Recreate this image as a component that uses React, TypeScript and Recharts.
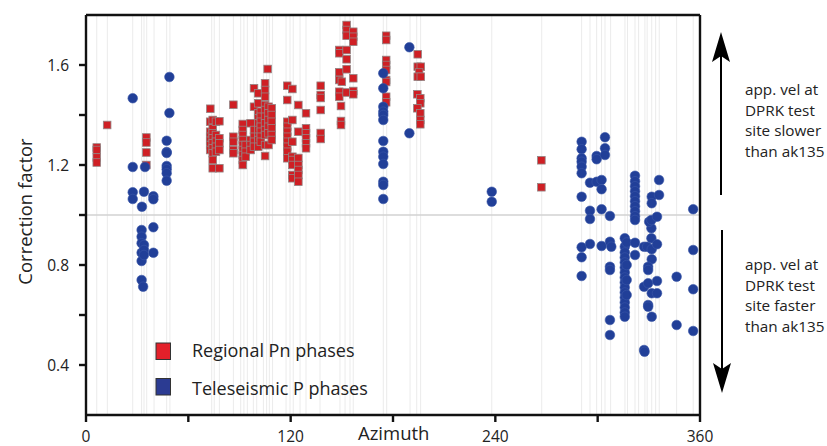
import { ScatterChart, Scatter, XAxis, YAxis, ReferenceLine } from 'recharts';

const xTicks = [0, 60, 120, 180, 240, 300, 360];
const xLabelled = [0, 120, 240, 360];
const yTicks = [0.4, 0.6, 0.8, 1.0, 1.2, 1.4, 1.6];
const yLabelled = [0.4, 0.8, 1.2, 1.6];

// station azimuths drawn as faint vertical guides
const stationAzimuths = [
  6.3, 12.5, 27.4, 32.6, 34, 35.6, 39.9, 47.3, 49.2, 73.7, 75.2, 78.2, 86.4, 90.7,
  92.6, 94.6, 98.1, 100.1, 104, 105.9, 107.5, 109.4, 117.3, 119.6, 121.5, 125.5, 129,
  137.2, 148.9, 151.9, 154.8, 156.7, 174.3, 176.3, 190, 193.9, 196.2, 237.9, 267.2,
  290.6, 295.5, 299.4, 302.3, 304.3, 307.6, 316, 317.5, 321.9, 324, 327.7, 329, 331.7,
  334, 336.1, 346.3, 356,
];

// [azimuth, correction factor]
const regionalPn: [number, number][] = [
  [6.3, 1.27], [6.3, 1.26], [6.3, 1.23], [6.3, 1.21],
  [12.4, 1.36],
  [35.4, 1.31], [35.4, 1.29], [35.4, 1.25], [35.4, 1.2],
  [72.9, 1.425], [72.8, 1.373], [72.8, 1.333], [72.8, 1.313], [72.8, 1.297], [72.8, 1.28], [72.8, 1.26],
  [74.3, 1.38], [74.3, 1.347], [74.3, 1.327], [74.3, 1.307], [74.3, 1.287], [74.3, 1.267], [74.3, 1.247], [74.3, 1.22], [74.3, 1.187],
  [76.2, 1.373], [76.2, 1.32], [76.2, 1.293], [76.2, 1.273], [76.2, 1.253],
  [78.2, 1.375], [78.2, 1.307], [78.2, 1.287], [78.2, 1.26], [78.2, 1.187],
  [86.4, 1.441], [86.4, 1.313], [86.4, 1.293], [86.4, 1.26], [86.4, 1.247],
  [91.9, 1.364], [91.9, 1.34], [91.9, 1.32], [91.9, 1.3], [91.9, 1.28], [91.9, 1.26], [91.9, 1.24], [91.9, 1.22], [91.9, 1.2],
  [93.6, 1.28], [93.6, 1.253], [93.6, 1.233],
  [96.5, 1.367], [96.5, 1.3], [96.5, 1.28], [96.5, 1.26],
  [98.5, 1.507], [98.5, 1.433], [98.5, 1.34], [98.5, 1.313], [98.5, 1.293], [98.5, 1.273],
  [101, 1.487], [101, 1.447], [101, 1.407], [101, 1.387], [101, 1.367], [101, 1.34], [101, 1.313], [101, 1.3], [101, 1.273],
  [102.5, 1.413], [102.5, 1.393], [102.5, 1.373], [102.5, 1.353], [102.5, 1.333], [102.5, 1.313], [102.5, 1.293],
  [105, 1.527], [105, 1.5], [105, 1.473], [105, 1.44], [105, 1.42], [105, 1.393], [105, 1.367], [105, 1.34], [105, 1.32], [105, 1.28], [105, 1.236],
  [106.5, 1.584],
  [107, 1.433], [107, 1.407], [107, 1.38], [107, 1.353], [107, 1.327], [107, 1.28],
  [108.9, 1.427], [108.9, 1.4], [108.9, 1.373], [108.9, 1.347], [108.9, 1.32], [108.9, 1.3],
  [118, 1.517], [118, 1.46], [118, 1.373], [118, 1.353], [118, 1.333], [118, 1.313], [118, 1.293], [118, 1.273], [118, 1.253], [118, 1.227],
  [121, 1.504], [121, 1.38], [121, 1.293], [121, 1.233], [121, 1.22], [121, 1.2], [121, 1.16], [121, 1.147],
  [124.5, 1.44], [124.5, 1.333], [124.5, 1.228], [124.5, 1.2], [124.5, 1.18], [124.5, 1.16], [124.5, 1.133],
  [129, 1.407], [129, 1.347], [129, 1.327], [129, 1.307], [129, 1.287], [129, 1.267],
  [137.6, 1.517], [137.6, 1.48], [137.6, 1.468], [137.6, 1.42], [137.6, 1.328], [137.6, 1.304],
  [148.5, 1.66], [148.5, 1.647], [148.5, 1.571], [148.5, 1.54], [148.5, 1.493], [148.5, 1.473],
  [149.5, 1.436], [149.5, 1.376], [149.5, 1.36], [150, 1.533],
  [152.8, 1.76], [152.8, 1.74], [152.8, 1.717], [152.8, 1.66], [152.8, 1.623], [152.8, 1.583], [152.8, 1.49],
  [156.7, 1.733], [156.7, 1.713], [156.7, 1.693], [156.7, 1.547], [156.7, 1.496], [156.7, 1.483],
  [176, 1.717], [176, 1.7], [176, 1.62], [176, 1.6], [176, 1.58], [176, 1.54], [176, 1.532], [176, 1.473], [176, 1.451],
  [194.5, 1.643], [194.5, 1.593], [196.3, 1.593], [195.3, 1.57], [194.5, 1.553], [196.3, 1.553],
  [194.3, 1.483], [196, 1.467], [196, 1.447], [194.3, 1.427], [196, 1.407], [196, 1.38], [196, 1.363],
  [267, 1.219], [267, 1.111],
];

const teleseismicP: [number, number][] = [
  [27.4, 1.467], [27.4, 1.192], [27.4, 1.091], [27.4, 1.064],
  [34.6, 1.192], [34, 1.093],
  [39.5, 1.075], [39.5, 1.063], [39.5, 0.951], [39.5, 0.849],
  [32.8, 1.033],
  [32.6, 0.94], [32.6, 0.913], [32.6, 0.887], [32.6, 0.849], [32.6, 0.816], [32.6, 0.74], [33.5, 0.713],
  [34, 0.88], [34, 0.86], [34, 0.84],
  [48.9, 1.552], [48.9, 1.408], [47.3, 1.297], [47.3, 1.252], [47.3, 1.248], [47.3, 1.196], [47.3, 1.183], [47.3, 1.167], [47.3, 1.137],
  [174.3, 1.567], [174.3, 1.507], [174.3, 1.433], [174.3, 1.413], [174.3, 1.4], [174.3, 1.38], [174.3, 1.296],
  [174.3, 1.253], [174.3, 1.233], [174.3, 1.204], [174.3, 1.133], [174.3, 1.12], [174.3, 1.064],
  [189.6, 1.671], [189.6, 1.327],
  [237.9, 1.093], [237.9, 1.053],
  [290.6, 1.293], [290.6, 1.263], [290.6, 1.227], [290.6, 1.213], [290.6, 1.193], [290.6, 1.167], [290.6, 1.073],
  [290.6, 0.871], [290.6, 0.831], [290.6, 0.756],
  [295.5, 1.129], [295.5, 1.017], [295.5, 0.984], [295.5, 0.884],
  [299.4, 1.236], [299.4, 1.223], [299.4, 1.133],
  [302.3, 1.14], [302.3, 1.103], [302.3, 1.023], [302.3, 0.876],
  [304.3, 1.311], [304.3, 1.267], [304.3, 1.24],
  [307.2, 0.996], [307.2, 0.893], [308, 0.873], [307.2, 0.793], [307.2, 0.78], [307.2, 0.58], [307.2, 0.52],
  [315.9, 0.907], [315.9, 0.873], [315.9, 0.85], [315.9, 0.83], [315.9, 0.81], [315.9, 0.79], [315.9, 0.77],
  [315.9, 0.75], [315.9, 0.73], [315.9, 0.71], [315.9, 0.69], [315.9, 0.67], [315.9, 0.65], [315.9, 0.63],
  [315.9, 0.61], [315.9, 0.593],
  [317, 0.89], [317, 0.8], [317, 0.74], [317, 0.68],
  [321.9, 1.157], [321.9, 1.135], [321.9, 1.115], [321.9, 1.095], [321.9, 1.075], [321.9, 1.055], [321.9, 1.035],
  [321.9, 1.015], [321.9, 0.995], [321.9, 0.98], [321.9, 0.889], [321.9, 0.84],
  [327.2, 0.873], [327.2, 0.713], [327.2, 0.46], [327.5, 0.453],
  [329, 0.873],
  [331.7, 1.073], [331.7, 1.047], [331.5, 0.947], [331.5, 0.907], [331.7, 0.863], [331.7, 0.823], [331.7, 0.687], [331.7, 0.593],
  [329.6, 0.793], [329.6, 0.78], [329.6, 0.727], [329.6, 0.64], [329.6, 0.633],
  [330.2, 0.973], [331.5, 0.98], [334.8, 0.993],
  [334.8, 0.883], [334.8, 0.736], [334.8, 0.687],
  [336, 1.14], [336, 1.08],
  [346.3, 0.753], [346.3, 0.56],
  [356, 1.023], [356, 0.86], [356, 0.703], [356, 0.536],
];

const pnData = regionalPn.map(([az, cf]) => ({ az, cf }));
const pData = teleseismicP.map(([az, cf]) => ({ az, cf }));

const AXIS = { stroke: '#111', strokeWidth: 2.4 };
const TICK_FONT = { fill: '#222', fontSize: 15.5 };

function RedSquare(props: any) {
  const { cx, cy } = props;
  return (
    <rect x={cx - 3.8} y={cy - 3.8} width={7.6} height={7.6} fill="#cf1f24" stroke="#938585" strokeWidth={0.8} />
  );
}

function BlueDot(props: any) {
  const { cx, cy } = props;
  return <circle cx={cx} cy={cy} r={4.8} fill="#213f98" stroke="#3b57a8" strokeWidth={0.6} />;
}

export default function App() {
  return (
    <div
      style={{
        position: 'absolute',
        left: 0,
        top: 0,
        width: 827,
        height: 446,
        background: '#fff',
        fontFamily: '"Open Sans", sans-serif',
      }}
    >
      <ScatterChart width={827} height={446} margin={{ top: 0, right: 0, bottom: 0, left: 0 }}>
        <XAxis
          xAxisId="top"
          orientation="top"
          type="number"
          dataKey="az"
          domain={[0, 360]}
          ticks={xTicks}
          height={15}
          stroke="#111"
          strokeWidth={2.4}
          axisLine={AXIS}
          tickLine={AXIS}
          tickSize={6}
          tickFormatter={() => ''}
        />
        <XAxis
          type="number"
          dataKey="az"
          domain={[0, 360]}
          ticks={xTicks}
          height={31}
          stroke="#111"
          strokeWidth={2.4}
          axisLine={AXIS}
          tickLine={AXIS}
          tickSize={7}
          tickMargin={9}
          tick={TICK_FONT}
          tickFormatter={(v: number) => (xLabelled.includes(v) ? String(v) : '')}
        />
        <YAxis
          type="number"
          dataKey="cf"
          domain={[0.2, 1.8]}
          ticks={yTicks}
          width={86}
          stroke="#111"
          strokeWidth={2.4}
          axisLine={AXIS}
          tickLine={AXIS}
          tickSize={7}
          tickMargin={10}
          tick={TICK_FONT}
          tickFormatter={(v: number) =>
            yLabelled.some((t) => Math.abs(t - v) < 1e-6) ? v.toFixed(1) : ''
          }
        />
        <YAxis
          yAxisId="right"
          orientation="right"
          type="number"
          domain={[0.2, 1.8]}
          width={127}
          stroke="#111"
          strokeWidth={2.4}
          axisLine={AXIS}
          tickLine={false}
          tick={false}
        />
        {stationAzimuths.map((az) => (
          <ReferenceLine key={az} x={az} stroke="#ebebeb" strokeWidth={1} />
        ))}
        <ReferenceLine y={1.0} stroke="#d2d2d2" strokeWidth={1.5} />
        <Scatter name="Regional Pn phases" data={pnData} shape={RedSquare} isAnimationActive={false} />
        <Scatter name="Teleseismic P phases" data={pData} shape={BlueDot} isAnimationActive={false} />
      </ScatterChart>

      <svg
        width={827}
        height={446}
        style={{ position: 'absolute', left: 0, top: 0, pointerEvents: 'none' }}
        fontFamily='"Open Sans", sans-serif'
      >
        <text x={358} y={440} fontSize={18.5} fill="#222">Azimuth</text>
        <text transform="translate(31.5,211.5) rotate(-90)" textAnchor="middle" fontSize={18.5} fill="#222">
          Correction factor
        </text>

        <rect x={156} y={343} width={14.5} height={16.5} fill="#e3202a" stroke="#333" strokeWidth={1} />
        <text x={192} y={357} fontSize={18} fill="#222">Regional Pn phases</text>
        <rect x={156} y={378.5} width={14.5} height={16.5} fill="#2b3b92" stroke="#333" strokeWidth={1} />
        <text x={192} y={394.5} fontSize={18} fill="#222">Teleseismic P phases</text>

        <line x1={721} y1={195} x2={721} y2={55} stroke="#000" strokeWidth={2} />
        <polygon points="721,32 712,62 721,56 730,62" fill="#000" />
        <line x1={722} y1={230} x2={722} y2={370} stroke="#000" strokeWidth={2} />
        <polygon points="722,393 713,363 722,369 731,363" fill="#000" />

        <g fontSize={15.3} fill="#222">
          <text x={745} y={95}>app. vel at</text>
          <text x={745} y={115.5}>DPRK test</text>
          <text x={745} y={136}>site slower</text>
          <text x={745} y={156.5}>than ak135</text>
          <text x={745} y={270}>app. vel at</text>
          <text x={745} y={290.5}>DPRK test</text>
          <text x={745} y={311}>site faster</text>
          <text x={745} y={331.5}>than ak135</text>
        </g>
      </svg>
    </div>
  );
}
